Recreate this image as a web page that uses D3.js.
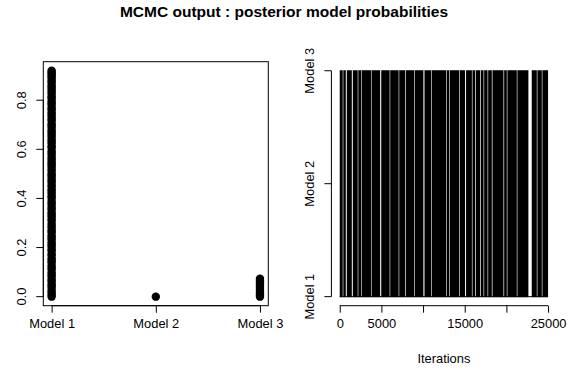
<!DOCTYPE html>
<html>
<head>
<meta charset="utf-8">
<script src="https://cdn.jsdelivr.net/npm/d3@7"></script>
<style>
  html, body { margin: 0; padding: 0; background: #fff; }
  svg { display: block; font-family: "Liberation Sans", Arial, Helvetica, sans-serif; }
</style>
</head>
<body>
<svg id="chart" width="568" height="374"></svg>
<script>
// ---------------- data ----------------
const title = "MCMC output : posterior model probabilities";
const models = ["Model 1", "Model 2", "Model 3"];
const modelIndex = [1, 2, 3];

// posterior probability values seen in the left panel (per model)
const model1Probs = [0.000, 0.007, 0.016, 0.024, 0.035, 0.043, 0.051, 0.062, 0.070, 0.081,
  0.089, 0.098, 0.110, 0.118, 0.127, 0.139, 0.146, 0.155, 0.167, 0.174, 0.186, 0.193,
  0.204, 0.213, 0.222, 0.233, 0.241, 0.250, 0.262, 0.269, 0.280, 0.288, 0.297, 0.309,
  0.316, 0.326, 0.335, 0.343, 0.355, 0.362, 0.373, 0.381, 0.390, 0.402, 0.409, 0.419,
  0.428, 0.437, 0.448, 0.455, 0.466, 0.474, 0.484, 0.494, 0.501, 0.512, 0.520, 0.530,
  0.539, 0.547, 0.558, 0.566, 0.577, 0.585, 0.593, 0.605, 0.612, 0.623, 0.631, 0.640,
  0.651, 0.659, 0.669, 0.677, 0.688, 0.697, 0.704, 0.716, 0.723, 0.733, 0.742, 0.751,
  0.762, 0.769, 0.780, 0.788, 0.797, 0.808, 0.815, 0.826, 0.834, 0.844, 0.853, 0.861,
  0.872, 0.880, 0.890, 0.898, 0.906, 0.914, 0.920];
const model2Probs = [0.000];
const model3Probs = [0.000, 0.006, 0.014, 0.021, 0.029, 0.036, 0.044, 0.051, 0.059, 0.066, 0.073];

const yTicksLeft = [0, 0.2, 0.4, 0.6, 0.8];
const yTickLabelsLeft = ["0.0", "0.2", "0.4", "0.6", "0.8"];

// trace plot: iteration ranges in which the chain keeps jumping Model 1 <-> Model 3
const nIter = 25000;
const mixingBlocks = [
  [1, 360], [430, 730], [850, 1450], [1570, 2160], [2230, 2600], [2670, 3750],
  [3820, 4850], [4980, 5990], [6060, 7070], [7140, 7870], [7950, 8950], [9020, 10040],
  [10170, 10990], [11060, 12790], [12860, 13150], [13220, 14350], [14420, 15040],
  [15160, 15860], [15930, 16260], [16340, 16860], [16940, 17260], [17330, 17740],
  [17810, 18250], [18330, 19650], [19730, 20050], [20120, 21250], [21320, 22640],
  [23040, 23650], [23720, 24250], [24320, 25000]
];
const xTicksRight = [0, 5000, 10000, 15000, 20000, 25000];
const xTickLabelsRight = ["0", "5000", "", "15000", "", "25000"];
const xLabelRight = "Iterations";

// ---------------- layout ----------------
const svg = d3.select("#chart");
const yTop = 61.7, yBot = 305.7;
const L = { x0: 43.3, x1: 268.3 };
const R = { x0: 331.4, x1: 556.4 };
const fs = 12.9;

function padded(lo, hi) { const d = (hi - lo) * 0.04; return [lo - d, hi + d]; }

// title
svg.append("text").attr("x", 284).attr("y", 17).attr("text-anchor", "middle")
  .attr("font-weight", "bold").attr("font-size", 15.5).text(title);

// ---------- left panel ----------
const allProbs = model1Probs.concat(model2Probs, model3Probs);
const xL = d3.scaleLinear().domain(padded(1, 3)).range([L.x0, L.x1]);
const yL = d3.scaleLinear().domain(padded(d3.min(allProbs), d3.max(allProbs))).range([yBot, yTop]);

const gL = svg.append("g");
const pts = [];
[model1Probs, model2Probs, model3Probs].forEach((arr, i) => arr.forEach(v => pts.push({ m: modelIndex[i], v })));
gL.selectAll("circle").data(pts).enter().append("circle")
  .attr("cx", d => xL(d.m)).attr("cy", d => yL(d.v)).attr("r", 4.2).attr("fill", "#000");

gL.append("rect").attr("x", L.x0).attr("y", yTop).attr("width", L.x1 - L.x0).attr("height", yBot - yTop)
  .attr("fill", "none").attr("stroke", "#000").attr("stroke-width", 1);

// left y axis
const yAxisL = gL.append("g").attr("transform", `translate(${L.x0},0)`)
  .call(d3.axisLeft(yL).tickValues(yTicksLeft).tickFormat((d, i) => yTickLabelsLeft[i]).tickSize(7).tickPadding(0));
yAxisL.select(".domain").attr("d", `M0,${yL(yTicksLeft[0])}V${yL(yTicksLeft[yTicksLeft.length - 1])}`);
yAxisL.selectAll(".tick").attr("transform", null);
yAxisL.selectAll(".tick line").attr("y1", d => yL(d)).attr("y2", d => yL(d));
yAxisL.selectAll("text").attr("font-size", fs).attr("font-family", null)
  .attr("transform", d => `translate(-17,${yL(d)}) rotate(-90)`).attr("x", 0).attr("y", 0).attr("dy", 0)
  .attr("text-anchor", "middle");

// left x axis
const xAxisL = gL.append("g").attr("transform", `translate(0,${yBot})`)
  .call(d3.axisBottom(xL).tickValues(modelIndex).tickFormat((d, i) => models[i]).tickSize(7).tickPadding(0));
xAxisL.select(".domain").attr("d", `M${xL(1)},0H${xL(3)}`);
xAxisL.selectAll("text").attr("font-size", fs).attr("font-family", null).attr("y", 22.5).attr("dy", 0);

// ---------- right panel ----------
const xR = d3.scaleLinear().domain(padded(1, nIter)).range([R.x0, R.x1]);
const yR = d3.scaleLinear().domain(padded(1, 3)).range([yBot, yTop]);
const gR = svg.append("g");

// chain sitting at Model 1 between the mixing blocks
gR.append("line").attr("x1", xR(1)).attr("x2", xR(nIter)).attr("y1", yR(1)).attr("y2", yR(1))
  .attr("stroke", "#000").attr("stroke-width", 1);
gR.selectAll("rect.blk").data(mixingBlocks).enter().append("rect").attr("class", "blk")
  .attr("x", d => xR(d[0])).attr("width", d => xR(d[1]) - xR(d[0]))
  .attr("y", yR(3) - 0.5).attr("height", yR(1) - yR(3) + 1).attr("fill", "#000");

const yAxisR = gR.append("g").attr("transform", `translate(${R.x0},0)`)
  .call(d3.axisLeft(yR).tickValues(modelIndex).tickFormat((d, i) => models[i]).tickSize(7).tickPadding(0));
yAxisR.select(".domain").attr("d", `M0,${yR(1)}V${yR(3)}`);
yAxisR.selectAll(".tick").attr("transform", null);
yAxisR.selectAll(".tick line").attr("y1", d => yR(d)).attr("y2", d => yR(d));
yAxisR.selectAll("text").attr("font-size", fs).attr("font-family", null)
  .attr("transform", d => `translate(-17,${yR(d)}) rotate(-90)`).attr("x", 0).attr("y", 0).attr("dy", 0)
  .attr("text-anchor", "middle");

const xAxisR = gR.append("g").attr("transform", `translate(0,${yBot})`)
  .call(d3.axisBottom(xR).tickValues(xTicksRight).tickFormat((d, i) => xTickLabelsRight[i]).tickSize(7).tickPadding(0));
xAxisR.select(".domain").attr("d", `M${xR(xTicksRight[0])},0H${xR(xTicksRight[xTicksRight.length - 1])}`);
xAxisR.selectAll("text").attr("font-size", fs).attr("font-family", null).attr("y", 22.5).attr("dy", 0);

svg.append("text").attr("x", (R.x0 + R.x1) / 2).attr("y", 363).attr("text-anchor", "middle")
  .attr("font-size", fs).text(xLabelRight);
</script>
</body>
</html>
